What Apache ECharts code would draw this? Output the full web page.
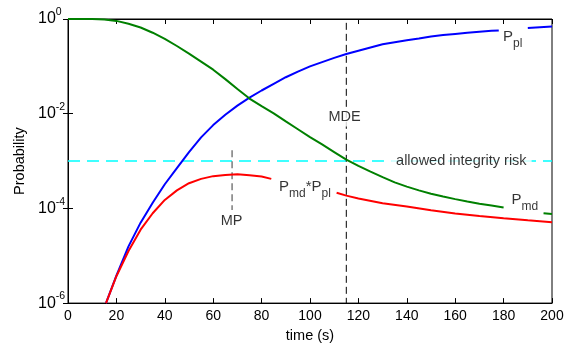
<!DOCTYPE html>
<html><head><meta charset="utf-8">
<script src="https://cdn.jsdelivr.net/npm/echarts@6/dist/echarts.min.js"></script>
<style>html,body{margin:0;padding:0;background:#fff}#c{width:574px;height:348px}</style>
</head><body><div id="c"></div>
<script>
// P_pl (blue)
const pplTime  = [15.7,20,25,30,35,40,45,50,55,60,65,70,75,80,85,90,95,100,105,110,115,120,125,130,135,140,145,150,155,160,165,170,175,178,184,190,195,200];
const pplValue = [1e-6,3.8e-6,1.58e-5,5.0e-5,1.32e-4,3.24e-4,7.1e-4,1.55e-3,3.16e-3,5.75e-3,9.5e-3,0.0148,0.0219,0.0309,0.0427,0.0589,0.0776,0.100,0.123,0.151,0.182,0.214,0.251,0.292,0.324,0.355,0.389,0.427,0.457,0.484,0.513,0.537,0.562,0.575,null,0.646,0.668,0.692];
// P_md (green)
const pmdTime  = [0,10,15,20,25,30,35,40,45,50,55,60,65,70,75,80,85,90,95,100,105,110,115,120,125,130,135,140,145,150,155,160,165,170,175,180,188,196.5,200];
const pmdValue = [1,1,0.977,0.912,0.794,0.661,0.513,0.380,0.269,0.186,0.126,0.0851,0.0537,0.0331,0.0209,0.0145,0.0102,6.9e-3,4.7e-3,3.2e-3,2.24e-3,1.55e-3,1.07e-3,7.9e-4,6.0e-4,4.57e-4,3.55e-4,2.88e-4,2.40e-4,2.04e-4,1.78e-4,1.57e-4,1.40e-4,1.26e-4,1.15e-4,1.05e-4,null,7.9e-5,7.6e-5];
// P_md*P_pl (red)
const prodTime  = [15.7,20,25,30,35,40,45,50,55,60,65,70,75,80,84,97,111,115,120,130,140,150,160,170,180,190,200];
const prodValue = [1e-6,3.7e-6,1.26e-5,3.55e-5,7.9e-5,1.51e-4,2.4e-4,3.4e-4,4.2e-4,4.8e-4,5.1e-4,5.25e-4,5.0e-4,4.7e-4,4.2e-4,null,2.14e-4,1.86e-4,1.62e-4,1.29e-4,1.10e-4,9.1e-5,7.8e-5,6.9e-5,6.2e-5,5.6e-5,5.1e-5];
// reference lines
const riskTime = [0,200];
const riskValue = [1e-3,1e-3];
const mdeTime = [115,115];
const mdeValue = [0.83,1e-6];
const mpTime = [67.8,67.8];
const mpValue = [1.7e-3,9.3e-5];
// axis ticks
const xTicks = [0,20,40,60,80,100,120,140,160,180,200];
const yTicks = [1e-6,1e-4,1e-2,1];
// annotations (data coordinates)
const annText = ['{P|P}{s|pl}','{P|P}{s|md}','{P|P}{s|md}{P|*P}{s|pl}','MDE','MP','allowed integrity risk'];
const annTime = [179.8,183.3,87.2,114.3,67.6,133.5];
const annValue = [0.41,1.48e-4,2.79e-4,8.5e-3,5.4e-5,1e-3];
const annAlign = ['left','left','left','center','center','left'];

const zip = (a,b) => a.map((t,i) => [t, b[i]]);
const font = 'Liberation Sans, Arial, sans-serif';
const chart = echarts.init(document.getElementById('c'), null, {renderer:'canvas'});

const yLabelFmt = v => {
  const e = Math.round(Math.log10(v));
  return '{m|10}{sup|' + e + '}';
};
const yRich = {
  m:{fontSize:16,lineHeight:24,verticalAlign:'middle',color:'#000',fontFamily:font},
  sup:{fontSize:10.5,lineHeight:10,verticalAlign:'top',color:'#000',fontFamily:font}
};

function lineSeries(data, color, width, type){
  return {type:'line', data, showSymbol:false, symbol:'none', connectNulls:false,
    lineStyle:{color, width, type: type||'solid'}, itemStyle:{color}, animation:false, silent:true, z:2};
}

const annSeries = annText.map((txt,i)=>({
  type:'scatter', data:[[annTime[i], annValue[i]]], symbolSize:1, itemStyle:{color:'transparent'},
  animation:false, silent:true, z:10,
  label:{show:true, position:'inside', formatter: txt, align: annAlign[i], verticalAlign:'middle',
    fontSize:14.5, color:'#000', fontFamily:font, backgroundColor:'#fff', padding:[2,5],
    rich:{
      P:{fontSize:15,lineHeight:24,verticalAlign:'middle',color:'#000',fontFamily:font},
      s:{fontSize:12,lineHeight:12,verticalAlign:'bottom',color:'#000',fontFamily:font}
    }}
}));
// only the text over dashed lines needs a white background
annSeries.forEach((s,i)=>{ if(annText[i].indexOf('{')===0){ s.label.backgroundColor='transparent'; s.label.padding=0; } });

chart.setOption({
  backgroundColor:'#fff',
  animation:false,
  grid:{left:68,right:22,top:19,bottom:42,show:true,borderColor:'#000',borderWidth:1},
  xAxis:[
    {type:'value',min:xTicks[0],max:xTicks[xTicks.length-1],interval:20,position:'bottom',
     name:'time (s)',nameLocation:'middle',nameGap:22,
     nameTextStyle:{fontSize:14.5,color:'#000',fontFamily:font},
     axisLine:{show:true,lineStyle:{color:'#000',width:1}},
     axisTick:{show:true,inside:true,length:5,lineStyle:{color:'#000'}},
     axisLabel:{fontSize:14,color:'#000',fontFamily:font,margin:6},
     splitLine:{show:false}},
    {type:'value',min:xTicks[0],max:xTicks[xTicks.length-1],interval:20,position:'top',
     axisLine:{show:true,lineStyle:{color:'#000',width:1}},
     axisTick:{show:true,inside:true,length:5,lineStyle:{color:'#000'}},
     axisLabel:{show:false},splitLine:{show:false}}
  ],
  yAxis:[
    {type:'log',logBase:100,min:yTicks[0],max:yTicks[yTicks.length-1],position:'left',
     name:'Probability',nameLocation:'middle',nameGap:37,
     nameTextStyle:{fontSize:14.5,color:'#000',fontFamily:font},
     axisLine:{show:true,lineStyle:{color:'#000',width:1}},
     axisTick:{show:true,inside:true,length:5,lineStyle:{color:'#000'}},
     axisLabel:{formatter:yLabelFmt,rich:yRich,align:'left',margin:30},
     minorTick:{show:false},splitLine:{show:false}},
    {type:'log',logBase:100,min:yTicks[0],max:yTicks[yTicks.length-1],position:'right',
     axisLine:{show:true,lineStyle:{color:'#000',width:1}},
     axisTick:{show:true,inside:true,length:5,lineStyle:{color:'#000'}},
     axisLabel:{show:false},splitLine:{show:false}}
  ],
  series:[
    lineSeries(zip(riskTime,riskValue),'#00ffff',1.5,[12,7]),
    lineSeries(zip(mdeTime,mdeValue),'#000000',1,[7,4]),
    lineSeries(zip(mpTime,mpValue),'#666666',1.3,[7,4]),
    lineSeries(zip(pplTime,pplValue),'#0000ff',2),
    lineSeries(zip(pmdTime,pmdValue),'#008000',2),
    lineSeries(zip(prodTime,prodValue),'#ff0000',2),
    ...annSeries
  ]
});
</script></body></html>
